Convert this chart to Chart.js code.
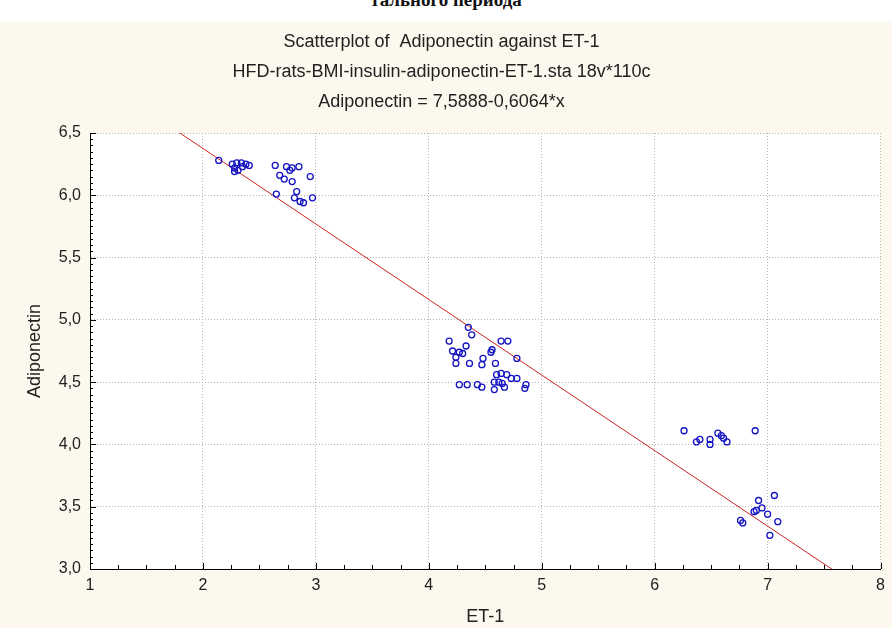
<!DOCTYPE html>
<html>
<head>
<meta charset="utf-8">
<script src="https://cdn.jsdelivr.net/npm/chart.js@4.4.1/dist/chart.umd.min.js"></script>
<style>
  body { margin: 0; background: #fff; width: 892px; height: 628px; overflow: hidden; position: relative; }
  #cut { position: absolute; top: -11px; left: 0; width: 892px; text-align: center;
         font: bold 19px "Liberation Serif", serif; line-height: 22px; color: #111; }
  #box { position: absolute; top: 22px; left: 0; width: 892px; height: 606px; background: rgb(253,248,238); }
</style>
</head>
<body>
<div id="cut">тального периода</div>
<div id="box"><canvas id="graph" width="892" height="606"></canvas></div>
<script>
// ET-1 (x) and Adiponectin (y)
var etX = [
  2.14, 2.26, 2.30, 2.34, 2.38, 2.41, 2.28, 2.31, 2.28, 2.35,
  2.64, 2.74, 2.79, 2.85, 2.68, 2.72, 2.79, 2.95, 2.65, 2.83, 2.81, 2.86, 2.89, 2.97, 2.77,
  4.35, 4.38, 4.18, 4.33, 4.21, 4.27, 4.30, 4.24, 4.56, 4.55, 4.64, 4.70, 4.78,
  4.24, 4.36, 4.47, 4.48, 4.59, 4.27, 4.34, 4.43, 4.47, 4.60, 4.64, 4.69, 4.73,
  4.78, 4.58, 4.62, 4.65, 4.58, 4.67, 4.85, 4.86,
  6.26, 6.37, 6.40, 6.49, 6.49, 6.56, 6.59, 6.61, 6.64, 6.89,
  6.92, 7.06, 6.95, 6.90, 6.88, 7.00, 7.09, 6.76, 6.78, 7.02
];
var adipY = [
  6.28, 6.25, 6.26, 6.26, 6.25, 6.24, 6.22, 6.20, 6.19, 6.23,
  6.24, 6.23, 6.22, 6.23, 6.16, 6.13, 6.11, 6.15, 6.01, 6.03, 5.98, 5.95, 5.94, 5.98, 6.20,
  4.94, 4.88, 4.83, 4.79, 4.75, 4.74, 4.73, 4.70, 4.76, 4.74, 4.83, 4.83, 4.69,
  4.65, 4.65, 4.64, 4.69, 4.65, 4.48, 4.48, 4.48, 4.46, 4.56, 4.57, 4.56, 4.53,
  4.53, 4.50, 4.50, 4.49, 4.44, 4.46, 4.45, 4.48,
  4.11, 4.02, 4.04, 4.04, 4.00, 4.09, 4.07, 4.05, 4.02, 4.11,
  3.55, 3.59, 3.49, 3.47, 3.46, 3.44, 3.38, 3.39, 3.37, 3.27
];

// fitted line Adiponectin = 7,5888-0,6064*x, drawn across the x range
var fitX = [1, 8];
var fitY = [6.9824, 2.7376];

var titleLines = [
  'Scatterplot of  Adiponectin against ET-1',
  'HFD-rats-BMI-insulin-adiponectin-ET-1.sta 18v*110c',
  'Adiponectin = 7,5888-0,6064*x'
];

var points = etX.map(function (x, i) { return { x: x, y: adipY[i] }; });
var fitPoints = fitX.map(function (x, i) { return { x: x, y: fitY[i] }; });

var font = 'Liberation Sans, Arial, sans-serif';

var plotBg = {
  id: 'plotBg',
  beforeDraw: function (chart) {
    var a = chart.chartArea, c = chart.ctx;
    c.save();
    c.fillStyle = '#fff';
    c.fillRect(a.left, a.top, a.right - a.left, a.bottom - a.top);
    c.restore();
  }
};

// small inward ticks along the two axes
var minorTicks = {
  id: 'minorTicks',
  afterDraw: function (chart) {
    var c = chart.ctx, a = chart.chartArea;
    var xs = chart.scales.x, ys = chart.scales.y;
    c.save();
    c.strokeStyle = '#000';
    c.lineWidth = 1;
    c.beginPath();
    for (var i = 0; i <= 28; i++) {
      var px = Math.round(xs.getPixelForValue(1 + i * 0.25)) + 0.5;
      var len = (i % 4 === 0) ? 6 : 4;
      c.moveTo(px, a.bottom);
      c.lineTo(px, a.bottom - len);
    }
    for (var j = 0; j <= 70; j++) {
      var py = Math.round(ys.getPixelForValue(3 + j * 0.05)) + 0.5;
      var l2 = (j % 10 === 0) ? 6 : 3;
      c.moveTo(a.left, py);
      c.lineTo(a.left + l2, py);
    }
    c.stroke();
    c.restore();
  }
};

var ctx = document.getElementById('graph');
var chart = new Chart(ctx, {
  type: 'scatter',
  data: {
    datasets: [{
      label: 'Adiponectin',
      data: points,
      pointStyle: 'circle',
      pointRadius: 3,
      borderWidth: 1.3,
      borderColor: 'rgb(20,20,195)',
      backgroundColor: 'rgba(0,0,0,0)'
    }, {
      type: 'line',
      label: 'fit',
      data: fitPoints,
      borderColor: 'rgb(205,35,35)',
      borderWidth: 1,
      pointRadius: 0,
      fill: false
    }]
  },
  plugins: [plotBg, minorTicks],
  options: {
    responsive: false,
    animation: false,
    layout: { padding: { left: 0, right: 9, top: 0, bottom: 0 } },
    plugins: {
      legend: { display: false },
      tooltip: { enabled: false },
      title: {
        display: true,
        text: titleLines,
        color: '#222',
        font: { family: font, size: 18, weight: 'normal', lineHeight: 30 / 18 },
        padding: { top: 5, bottom: 16 }
      }
    },
    scales: {
      x: {
        type: 'linear',
        position: 'bottom',
        min: 1, max: 8,
        afterFit: function (s) { s.height = 59; },
        ticks: { stepSize: 1, padding: 7, color: '#222', font: { family: font, size: 16 } },
        grid: { color: '#b4b4b4', drawTicks: false },
        border: { display: true, color: '#000', width: 1, dash: [1, 2] },
        title: { display: true, text: 'ET-1', color: '#222', font: { family: font, size: 18 }, padding: { top: 0, bottom: 0 } }
      },
      y: {
        min: 3, max: 6.5,
        afterFit: function (s) { s.width = 90; },
        ticks: {
          stepSize: 0.5, padding: 9, color: '#222', font: { family: font, size: 16 },
          callback: function (v) { return v.toFixed(1).replace('.', ','); }
        },
        grid: { color: '#b4b4b4', drawTicks: false },
        border: { display: true, color: '#000', width: 1, dash: [1, 2] },
        title: { display: true, text: 'Adiponectin', color: '#222', font: { family: font, size: 18 }, padding: { top: 24, bottom: 0 } }
      }
    }
  }
});
</script>
</body>
</html>
